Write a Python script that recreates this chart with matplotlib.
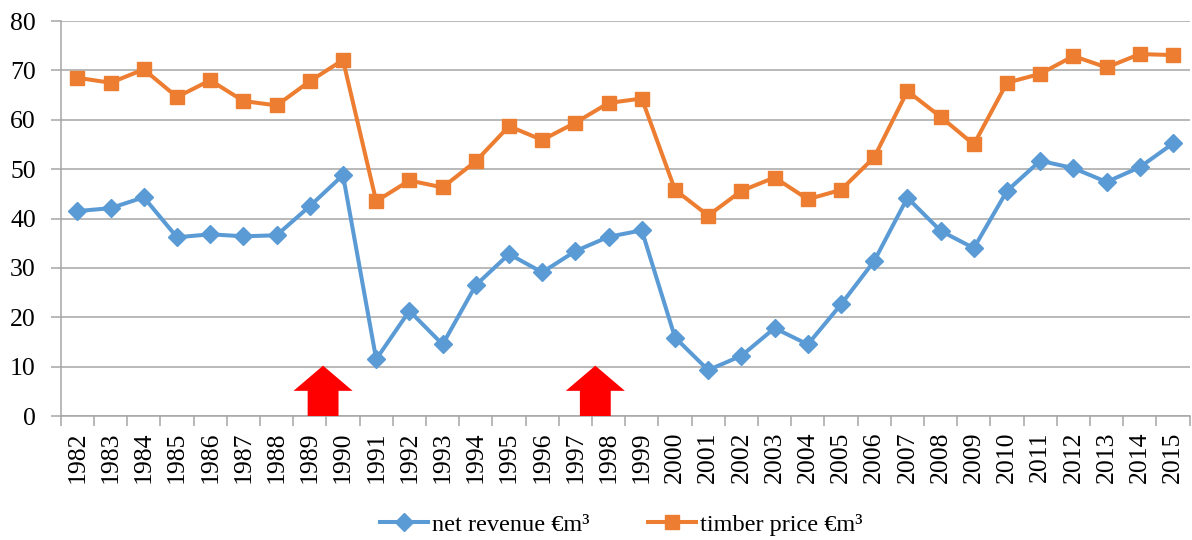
import numpy as np
import matplotlib
matplotlib.use("Agg")
import matplotlib.pyplot as plt
from matplotlib.patches import FancyArrow

# data
years = list(range(1982, 2016))
net_revenue = [41.5, 42.1, 44.3, 36.2, 36.8, 36.4, 36.6, 42.5, 48.8, 11.5,
               21.3, 14.5, 26.5, 32.8, 29.1, 33.4, 36.3, 37.6, 15.9, 9.3,
               12.2, 17.8, 14.5, 22.6, 31.4, 44.2, 37.5, 34.0, 45.6, 51.7,
               50.2, 47.4, 50.4, 55.2]
timber_price = [68.5, 67.5, 70.2, 64.6, 68.0, 63.8, 62.9, 67.8, 72.1, 43.5,
                47.7, 46.3, 51.6, 58.7, 55.9, 59.4, 63.4, 64.3, 45.8, 40.6,
                45.6, 48.3, 43.9, 45.8, 52.4, 65.8, 60.6, 55.0, 67.5, 69.3,
                72.9, 70.6, 73.3, 73.1]
# arrow positions (category index)
arrow_x = [7.4, 15.6]

plt.rcParams['font.family'] = ['Liberation Serif', 'DejaVu Serif']

fig = plt.figure(figsize=(11.92, 5.40), dpi=100)
ax = fig.add_axes([0.051, 0.2296, 0.947, 0.7315])

x = np.arange(len(years))
grid_c = '#A6A6A6'

ax.plot(x, net_revenue, color='#5B9BD5', lw=2.9, marker='D', ms=9,
        label='net revenue €m³', zorder=3)
ax.plot(x, timber_price, color='#ED7D31', lw=2.9, marker='s', ms=10.5,
        label='timber price €m³', zorder=3)

for ax_x in arrow_x:
    ax.add_patch(FancyArrow(ax_x, 0, 0, 10.2, width=0.93, head_width=1.78,
                            head_length=5.1, length_includes_head=True,
                            color='#FF0000', lw=0, zorder=4))

ax.set_xlim(-0.5, len(years) - 0.5)
ax.set_ylim(0, 80)
ax.set_yticks(range(0, 81, 10))
ax.yaxis.grid(True, color=grid_c, lw=1.1)
ax.set_axisbelow(True)

ax.set_xticks(np.arange(-0.5, len(years)), labels=[])
ax.set_xticks(x, labels=[str(y) for y in years], minor=True)
ax.tick_params(axis='x', which='major', length=7, color=grid_c, width=1.1)
ax.tick_params(axis='x', which='minor', length=0, pad=11, labelsize=18.5,
               labelrotation=90)
ax.tick_params(axis='y', length=7, color=grid_c, width=1.1, pad=11,
               labelsize=18.5)

for s in ['top', 'right']:
    ax.spines[s].set_visible(False)
for s in ['left', 'bottom']:
    ax.spines[s].set_color(grid_c)
    ax.spines[s].set_linewidth(1.1)

fig.legend(loc='center', bbox_to_anchor=(0.521, 0.028), ncol=2,
           frameon=False, fontsize=17.5, handlelength=2.0,
           handletextpad=0.15, columnspacing=2.4)

fig.savefig('out.png', dpi=100)
